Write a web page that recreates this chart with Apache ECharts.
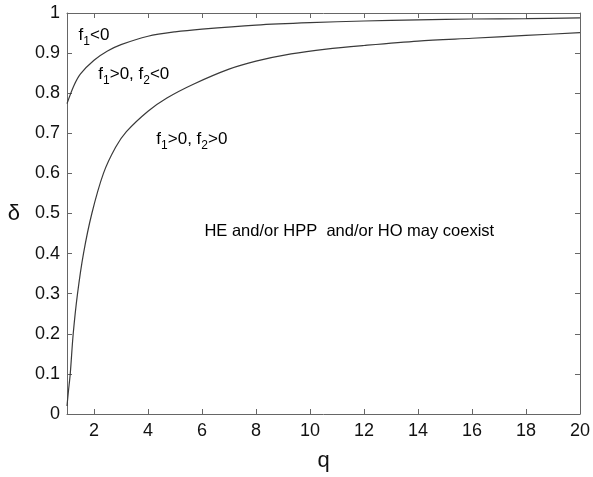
<!DOCTYPE html>
<html>
<head>
<meta charset="utf-8">
<script src="https://cdn.jsdelivr.net/npm/echarts@6/dist/echarts.min.js"></script>
<style>
html,body{margin:0;padding:0;background:#fff;}
#c{width:593px;height:477px;}
</style>
</head>
<body>
<div id="c"></div>
<script>
// Upper boundary (f1 = 0)
const qUpper = [1, 1.25, 1.5, 2, 2.5, 3, 4, 5, 6, 8, 10, 12, 14, 16, 18, 20];
const dUpper = [0.774, 0.818, 0.848, 0.882, 0.905, 0.921, 0.942, 0.953, 0.960, 0.970, 0.976, 0.980, 0.983, 0.985, 0.986, 0.988];
// Lower boundary (f2 = 0)
const qLower = [1, 1.05, 1.12, 1.23, 1.39, 1.61, 1.92, 2.35, 2.8, 3.2, 4, 4.7, 5.7, 7, 8, 9.3, 10.6, 12, 14, 16, 18, 20];
const dLower = [0.02, 0.055, 0.10, 0.20, 0.30, 0.40, 0.50, 0.60, 0.665, 0.704, 0.755, 0.788, 0.823, 0.86, 0.88, 0.898, 0.91, 0.919, 0.93, 0.937, 0.944, 0.951];
const xTicks = [2, 4, 6, 8, 10, 12, 14, 16, 18, 20];
// Annotations: [q, delta, rich text]
const annQ = [1.43, 2.16, 4.31, 6.09];
const annD = [0.945, 0.848, 0.685, 0.456];
const annText = [
  '{a|f}{s|1}{a|<0}',
  '{a|f}{s|1}{a|>0, f}{s|2}{a|<0}',
  '{a|f}{s|1}{a|>0, f}{s|2}{a|>0}',
  '{b|HE and/or HPP  and/or HO may coexist}'
];

const FONT = 'Liberation Sans, Arial, sans-serif';
const axisColor = '#666';
const chart = echarts.init(document.getElementById('c'));

const zip = (a, b) => a.map((v, i) => [v, b[i]]);

const xBase = {
  type: 'value', min: 1, max: 20,
  axisLine: {show: true, onZero: false, lineStyle: {color: axisColor, width: 1}},
  axisTick: {show: true, inside: true, length: 5, customValues: xTicks, lineStyle: {color: axisColor}},
  splitLine: {show: false}
};
const yBase = {
  type: 'value', min: 0, max: 1, interval: 0.1,
  axisLine: {show: true, onZero: false, lineStyle: {color: axisColor, width: 1}},
  axisTick: {show: true, inside: true, length: 5, lineStyle: {color: axisColor}},
  splitLine: {show: false}
};

chart.setOption({
  animation: false,
  backgroundColor: '#fff',
  grid: {left: 67, right: 10, top: 13, bottom: 58, containLabel: false},
  xAxis: [
    Object.assign({}, xBase, {
      position: 'bottom',
      name: 'q', nameLocation: 'middle', nameGap: 36,
      nameTextStyle: {fontFamily: FONT, fontSize: 22, color: '#111'},
      axisLabel: {show: true, customValues: xTicks, margin: 8, fontFamily: FONT, fontSize: 18, color: '#111'}
    }),
    Object.assign({}, xBase, {position: 'top', axisLabel: {show: false}})
  ],
  yAxis: [
    Object.assign({}, yBase, {
      position: 'left',
      name: 'δ', nameLocation: 'middle', nameGap: 47, nameRotate: 0,
      nameTextStyle: {fontFamily: FONT, fontSize: 22, color: '#111'},
      axisLabel: {show: true, margin: 7, fontFamily: FONT, fontSize: 18, color: '#111'}
    }),
    Object.assign({}, yBase, {position: 'right', axisLabel: {show: false}})
  ],
  series: [
    {type: 'line', xAxisIndex: 0, yAxisIndex: 0, data: zip(qUpper, dUpper), showSymbol: false,
     smooth: 0.3, lineStyle: {color: '#3a3a3a', width: 1.2}, silent: true},
    {type: 'line', xAxisIndex: 0, yAxisIndex: 0, data: zip(qLower, dLower), showSymbol: false,
     smooth: 0.3, lineStyle: {color: '#3a3a3a', width: 1.2}, silent: true}
  ]
});

const rich = {
  a: {fontFamily: FONT, fontSize: 17, color: '#222', verticalAlign: 'top', lineHeight: 17},
  s: {fontFamily: FONT, fontSize: 12, color: '#222', verticalAlign: 'top', lineHeight: 12, padding: [9, 0, 0, 0]},
  b: {fontFamily: FONT, fontSize: 16.5, color: '#222', verticalAlign: 'middle'}
};
const graphics = annQ.map((q, i) => {
  const p = chart.convertToPixel({gridIndex: 0}, [q, annD[i]]);
  return {
    type: 'text', x: p[0], y: p[1], silent: true,
    style: {text: annText[i], rich: rich, align: 'left', verticalAlign: 'middle'}
  };
});
chart.setOption({graphic: graphics});
</script>
</body>
</html>
